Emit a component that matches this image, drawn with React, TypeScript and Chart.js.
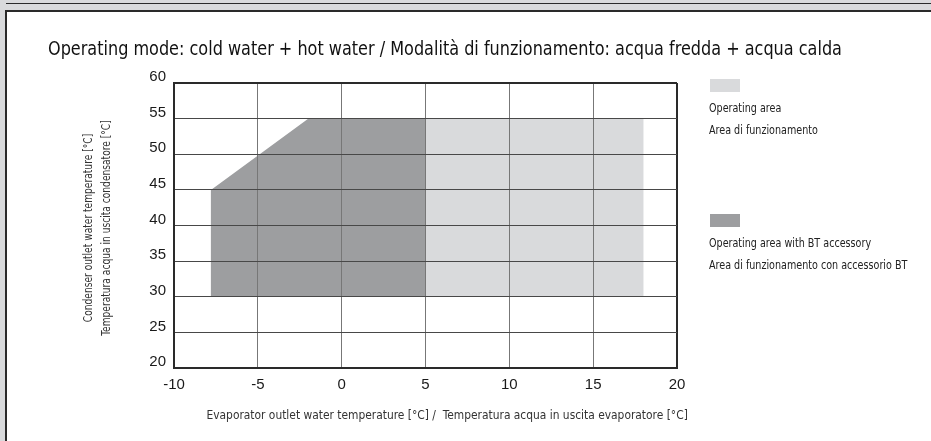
import React, { useEffect, useRef } from 'react';
import { Chart, registerables } from 'chart.js';

Chart.register(...registerables);

const titleText = 'Operating mode: cold water + hot water / Modalità di funzionamento: acqua fredda + acqua calda';
const xTitle = 'Evaporator outlet water temperature [°C] /  Temperatura acqua in uscita evaporatore [°C]';
const yTitleLines = ['Condenser outlet water temperature [°C]', 'Temperatura acqua in uscita condensatore [°C]'];
const legendLabels = [
  ['Operating area', 'Area di funzionamento'],
  ['Operating area with BT accessory', 'Area di funzionamento con accessorio BT'],
];

const xMin = -10;
const xMax = 20;
const xStep = 5;
const yMin = 20;
const yMax = 60;
const yStep = 5;

// Operating area (light)
const operatingX = [5, 5, 18, 18, 5];
const operatingY = [30, 55, 55, 30, 30];
// Operating area with BT accessory (dark)
const btX = [-7.8, -7.8, -2, 5, 5, -7.8];
const btY = [30, 45, 55, 55, 30, 30];

const LIGHT = '#d9dadc';
const DARK = '#9d9ea0';
const NARROW = '"Liberation Sans Narrow", "DejaVu Sans Condensed", "Arial Narrow", sans-serif';

function App() {
  const canvasRef = useRef<HTMLCanvasElement | null>(null);

  useEffect(() => {
    const canvas = canvasRef.current;
    if (!canvas) return;
    const toPts = (xs: number[], ys: number[]) => xs.map((x, i) => ({ x, y: ys[i] }));
    const chart = new Chart(canvas, {
      type: 'scatter',
      data: {
        datasets: [
          {
            label: legendLabels[0][0],
            data: toPts(operatingX, operatingY),
            showLine: true,
            fill: 'shape',
            backgroundColor: LIGHT,
            borderWidth: 0,
            borderColor: 'rgba(0,0,0,0)',
            pointRadius: 0,
            tension: 0,
          },
          {
            label: legendLabels[1][0],
            data: toPts(btX, btY),
            showLine: true,
            fill: 'shape',
            backgroundColor: DARK,
            borderWidth: 0,
            borderColor: 'rgba(0,0,0,0)',
            pointRadius: 0,
            tension: 0,
          },
        ],
      },
      options: {
        responsive: false,
        animation: false,
        devicePixelRatio: 1,
        events: [],
        layout: { padding: { left: 8, top: 83, right: 254, bottom: 0 } },
        plugins: { legend: { display: false }, tooltip: { enabled: false }, title: { display: false } },
        scales: {
          x: {
            type: 'linear',
            min: xMin,
            max: xMax,
            afterFit: (s: any) => { s.height = 441 - 368; },
            ticks: {
              stepSize: xStep,
              padding: 8,
              color: '#1a1a1a',
              font: { family: '"Liberation Sans", Arial, sans-serif', size: 15 },
            },
            grid: {
              z: 1,
              drawTicks: false,
              color: (ctx: any) => (ctx.tick && ctx.tick.value === xMax ? '#2a2a2a' : '#777777'),
              lineWidth: (ctx: any) => (ctx.tick && ctx.tick.value === xMax ? 2 : 1),
            },
            border: { display: true, color: '#2a2a2a', width: 2, z: 2 },
            title: { display: false },
          },
          y: {
            type: 'linear',
            min: yMin,
            max: yMax,
            afterFit: (s: any) => { s.width = 174 - 8; },
            ticks: {
              stepSize: yStep,
              padding: 8,
              labelOffset: -6,
              color: '#1a1a1a',
              font: { family: '"Liberation Sans", Arial, sans-serif', size: 15 },
            },
            grid: {
              z: 1,
              drawTicks: false,
              color: (ctx: any) => (ctx.tick && ctx.tick.value === yMax ? '#2a2a2a' : '#484848'),
              lineWidth: (ctx: any) => (ctx.tick && ctx.tick.value === yMax ? 2 : 1),
            },
            border: { display: true, color: '#2a2a2a', width: 2, z: 2 },
            title: { display: false },
          },
        },
      },
    } as any);
    return () => chart.destroy();
  }, []);

  const legendBlock = (idx: number, swatchTop: number, color: string) => (
    <React.Fragment key={idx}>
      <div style={{ position: 'absolute', left: 710, top: swatchTop, width: 30, height: 13, background: color }} />
      <div
        style={{
          position: 'absolute',
          left: 709,
          top: swatchTop + 18,
          fontFamily: NARROW,
          fontSize: 13,
          lineHeight: '22px',
          color: '#222',
          whiteSpace: 'nowrap',
          transform: 'scaleX(0.82)',
          transformOrigin: 'left top',
        }}
      >
        {legendLabels[idx].map((l, i) => (
          <div key={i}>{l}</div>
        ))}
      </div>
    </React.Fragment>
  );

  const yTitle = (text: string, cx: number, cy: number) => (
    <div
      key={text}
      style={{
        position: 'absolute',
        left: cx,
        top: cy,
        fontFamily: NARROW,
        fontSize: 12.5,
        lineHeight: '16px',
        color: '#333',
        whiteSpace: 'nowrap',
        transform: 'translate(-50%, -50%) rotate(-90deg) scaleX(0.81)',
        transformOrigin: 'center center',
      }}
    >
      {text}
    </div>
  );

  return (
    <div
      style={{
        position: 'fixed',
        left: 0,
        top: 0,
        width: 931,
        height: 441,
        background: LIGHT,
        overflow: 'hidden',
      }}
    >
      <div style={{ position: 'absolute', left: 6, top: 3, right: 0, height: 1, background: '#2a2a2a' }} />
      <div
        style={{
          position: 'absolute',
          left: 5,
          top: 10,
          right: -4,
          bottom: -4,
          borderLeft: '2px solid #2a2a2a',
          borderTop: '2px solid #2a2a2a',
          background: '#fff',
        }}
      />
      <canvas ref={canvasRef} width={931} height={441} style={{ position: 'absolute', left: 0, top: 0, width: 931, height: 441 }} />
      <div
        style={{
          position: 'absolute',
          left: 48,
          top: 37,
          fontFamily: NARROW,
          fontSize: 19,
          lineHeight: '22px',
          color: '#111',
          whiteSpace: 'nowrap',
          transform: 'scaleX(0.94)',
          transformOrigin: 'left center',
        }}
      >
        {titleText}
      </div>
      {legendBlock(0, 79, LIGHT)}
      {legendBlock(1, 214, DARK)}
      {yTitle(yTitleLines[0], 88, 228)}
      {yTitle(yTitleLines[1], 106, 228)}
      <div
        style={{
          position: 'absolute',
          left: 194,
          width: 500,
          top: 407,
          textAlign: 'center',
          fontFamily: NARROW,
          fontSize: 12.5,
          lineHeight: '16px',
          color: '#333',
          whiteSpace: 'pre',
          transform: 'scaleX(0.95)',
          transformOrigin: 'center center',
        }}
      >
        {xTitle}
      </div>
    </div>
  );
}

export default App;
